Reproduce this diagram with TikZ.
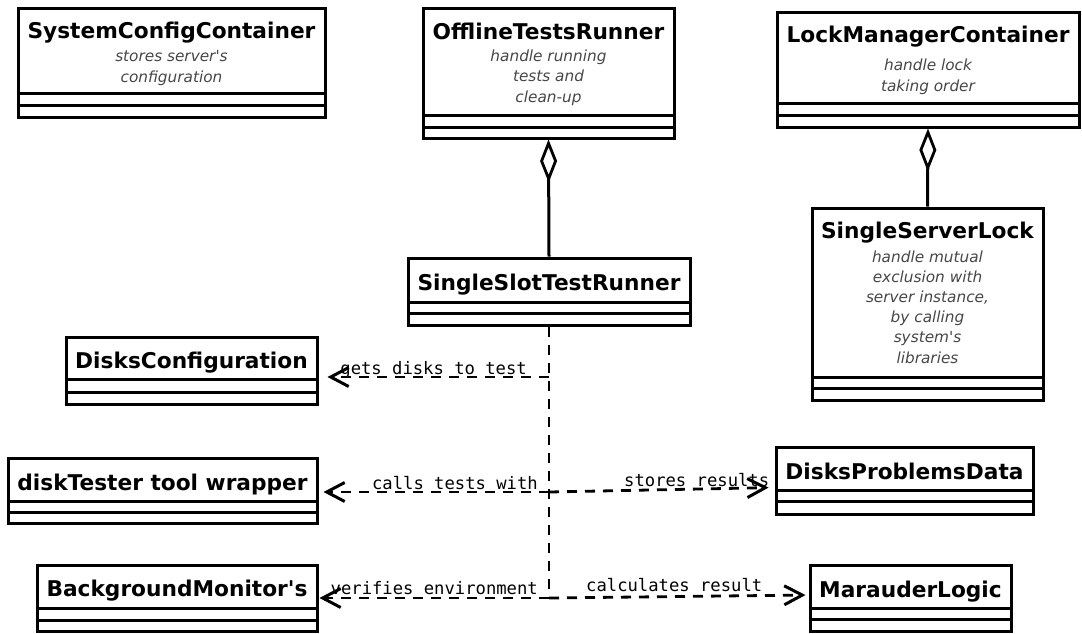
\documentclass[tikz,border=0pt]{standalone}
\usepackage{fontspec}
\usetikzlibrary{arrows.meta}
\newfontfamily\djs{DejaVu Sans}
\newfontfamily\djmono{DejaVu Sans Mono}

% class box: name, x1, y1, x2, y2, first divider, second divider
\newcommand\umlclass[7]{%
  \node[cls, minimum width={#4-#2}, minimum height={#5-#3}] (#1) at ({(#2+#4)/2},{(#3+#5)/2}) {};
  \draw[sep] (#1.west |- 0,#6) -- (#1.east |- 0,#6);
  \draw[sep] (#1.west |- 0,#7) -- (#1.east |- 0,#7);
}

\tikzset{
  cls/.style={draw, line width=3pt, inner sep=0pt, fill=white},
  sep/.style={line width=3pt},
  ttl/.style={font=\djs\bfseries\fontsize{21.7}{25}\selectfont, anchor=base, inner sep=0pt},
  % multi-line descriptions: the base anchor sits on the last line
  dsc/.style={font=\djs\itshape\fontsize{15.3}{20.2}\selectfont, text=black!72, align=center, anchor=base, inner sep=0pt},
  lbl/.style={font=\djmono\fontsize{17.2}{20}\selectfont, inner sep=0pt},
  agg/.style={line width=3pt, {Diamond[fill=white,length=43pt,width=17pt,line width=2.8pt]}-},
  dashline/.style={line width=2.8pt, dash pattern=on 10pt off 8pt},
  dep/.style={dashline, -{Straight Barb[length=18pt,width=19pt,line width=3pt]}},
}

\begin{document}
\begin{tikzpicture}[x=1pt, y=-1pt]
\useasboundingbox (0,0) rectangle (1082,633);

% ---- classes ----
\umlclass{sys}{18}{8}{325}{117}{93}{105}
\node[ttl] (sys-t) at (171.5,38) {SystemConfigContainer};
\node[dsc] (sys-d) at (171.5,82) {stores server's\\configuration};

\umlclass{off}{423}{8}{674}{138}{115}{127}
\node[ttl] (off-t) at (548.5,39) {OfflineTestsRunner};
\node[dsc] (off-d) at (548.5,102) {handle running\\tests and\\clean-up};

\umlclass{lock}{777}{12}{1079}{127}{103}{115}
\node[ttl] (lock-t) at (928,42) {LockManagerContainer};
\node[dsc] (lock-d) at (928,91) {handle lock\\taking order};

\umlclass{ssl}{812}{208}{1043}{400}{377}{388}
\node[ttl] (ssl-t) at (927.5,238) {SingleServerLock};
\node[dsc] (ssl-d) at (927.5,363) {handle mutual\\exclusion with\\server instance,\\by calling\\system's\\libraries};

\umlclass{sst}{408}{258}{690}{325}{302}{313}
\node[ttl] (sst-t) at (549,290) {SingleSlotTestRunner};

\umlclass{dc}{66}{337}{317}{404}{379}{392}
\node[ttl] (dc-t) at (191.5,368) {DisksConfiguration};

\umlclass{dt}{8}{458}{317}{523}{501}{512}
\node[ttl] (dt-t) at (162.5,490) {diskTester tool wrapper};

\umlclass{bm}{37}{565}{317}{631}{608}{620}
\node[ttl] (bm-t) at (177,596) {BackgroundMonitor's};

\umlclass{dpd}{776}{447}{1033}{514}{490}{501}
\node[ttl] (dpd-t) at (904.5,479) {DisksProblemsData};

\umlclass{ml}{810}{565}{1011}{631}{608}{619}
\node[ttl] (ml-t) at (910.5,597) {MarauderLogic};

% ---- aggregations ----
\draw[agg] (off.south) -- (sst.north);
\draw[agg] (lock.south) -- (ssl.north);

% ---- dependencies out of SingleSlotTestRunner ----
\coordinate (j1) at (549,377);
\coordinate (j2) at (549,492);
\coordinate (j3) at (549,598);
\draw[dashline] (sst.south) -- (j3);
\draw[dep, shorten >=9pt] (j1) -- (j1 -| dc.east);
\draw[dep, shorten >=5pt] (j2) -- (j2 -| dt.east);
\draw[dep, shorten >=6pt] (j2) -- ([yshift=-7pt]dpd.west);
\draw[dep, shorten >=1pt] (j3) -- (j3 -| bm.east);
\draw[dep, shorten >=3pt] (j3) -- ([yshift=3pt]ml.west);

% ---- dependency labels ----
\node[lbl, anchor=base east] (l-dc) at (527,374) {gets disks to test};
\node[lbl, anchor=base east] (l-dt) at (538,489) {calls tests with};
\node[lbl, anchor=base west] (l-dpd) at (624,486) {stores results};
\node[lbl, anchor=base east] (l-bm) at (538,594) {verifies environment};
\node[lbl, anchor=base west] (l-ml) at (586,591) {calculates result};
\end{tikzpicture}
\end{document}
